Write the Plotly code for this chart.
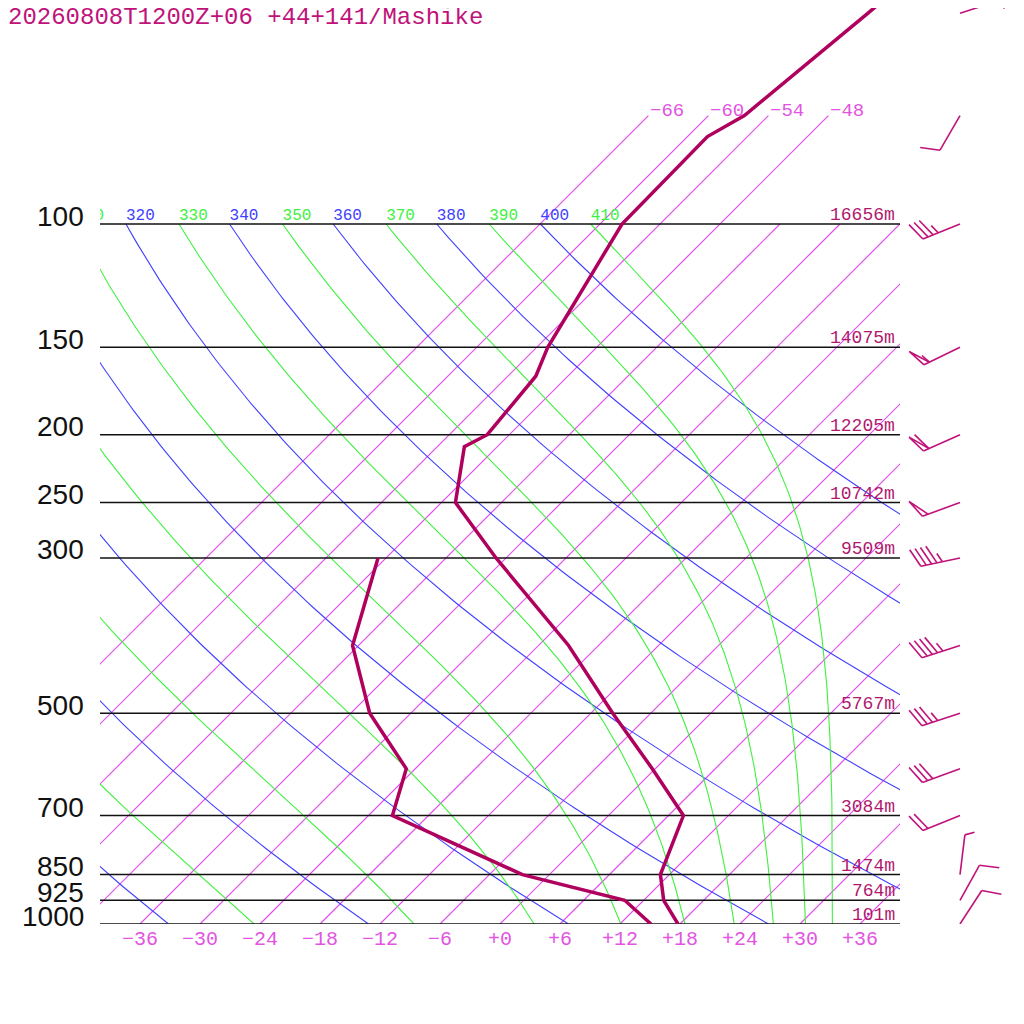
import numpy as np
import plotly.graph_objects as go

# --- sounding ---
pres_t = [1000, 925, 850, 700, 600, 500, 400, 300, 250, 208, 200, 165, 150, 100, 75, 70, 50, 40]
temp = [17.8, 14.0, 11.1, 7.5, -0.3, -9.8, -21.0, -37.0, -46.6, -51.3, -50.2, -51.2, -52.9,
        -57.8, -58.0, -56.4, -54.3, -52.9]
pres_td = [1000, 925, 850, 700, 600, 500, 400, 300]
dewp = [15.1, 10.1, -2.7, -21.6, -24.9, -34.1, -42.6, -48.8]

levels = [100, 150, 200, 250, 300, 500, 700, 850, 925, 1000]
heights = [16656, 14075, 12205, 10742, 9509, 5767, 3084, 1474, 764, 101]

wind_p = [50, 70, 100, 150, 200, 250, 300, 400, 500, 600, 700, 850, 925, 1000]
wind_dir = [72, 210, 248, 244, 246, 250, 258, 252, 252, 250, 248, 7, 29, 33]
wind_kt = [5, 10, 35, 55, 60, 50, 45, 45, 35, 30, 20, 5, 10, 10]

isotherms = list(range(-66, 37, 6))
theta_lines = list(range(240, 401, 20))
thetae_lines = list(range(250, 411, 20))
temp_ticks = list(range(-36, 37, 6))

title = "20260808T1200Z+06 +44+141/Mashike"

C_PROF = "rgb(176,0,94)"
C_BARB = "rgb(192,18,122)"
C_HGT = "rgb(176,24,110)"
C_ISO = "rgb(226,78,236)"
C_ISO_TXT = "rgb(226,84,226)"
C_DRY = "rgb(64,64,255)"
C_WET = "rgb(64,240,64)"
MONO = "Liberation Mono"

SKEW = 70.0   # deg C per decade of pressure
PX_DEC = 700  # pixels per decade of pressure
OFF = 8       # the page puts the figure 8px in from the corner

# y axis: page y=OFF .. 924 -> figure 0 .. 916
Y_TOP = 3 - (924 - OFF) / PX_DEC


def skew(t, p):
    return np.asarray(t, float) + SKEW * np.log10(1000.0 / np.asarray(p, float))


def theta_e(tk, p):
    es = 6.112 * np.exp(17.67 * (tk - 273.15) / (tk - 29.65))
    es = np.minimum(es, 0.5 * p)
    r = 622.0 * es / (p - es)
    return tk * (1000.0 / p) ** (0.2854 * (1 - 0.00028 * r)) * \
        np.exp((3.376 / tk - 0.00254) * r * (1 + 0.00081 * r))


def moist_adiabat(te, p):
    lo = np.full_like(p, 150.0)
    hi = np.full_like(p, 340.0)
    for _ in range(60):
        mid = 0.5 * (lo + hi)
        big = theta_e(mid, p) > te
        hi = np.where(big, mid, hi)
        lo = np.where(big, lo, mid)
    return 0.5 * (lo + hi) - 273.15


pgrid = np.exp(np.linspace(np.log(1000), np.log(100), 140))

fig = go.Figure()

# isotherms
xs, ys = [], []
for t in isotherms:
    ptop = 70 if t <= -48 else 100
    xs += [float(t), float(skew(t, ptop)), None]
    ys += [1000.0, float(ptop), None]
fig.add_trace(go.Scatter(x=xs, y=ys, mode="lines", line=dict(color=C_ISO, width=1.2),
                         hoverinfo="skip"))

# dry adiabats
xs, ys = [], []
lab_x, lab_t = [], []
for th in theta_lines:
    tc = th * (pgrid / 1000.0) ** 0.2857 - 273.15
    xs += list(skew(tc, pgrid)) + [None]
    ys += list(pgrid) + [None]
    lx = float(skew(tc[-1], 100))
    if lx > -43.5:
        lab_x.append(lx)
        lab_t.append(str(th))
fig.add_trace(go.Scatter(x=xs, y=ys, mode="lines", line=dict(color=C_DRY, width=1.1),
                         hoverinfo="skip"))
fig.add_trace(go.Scatter(x=lab_x, y=[100] * len(lab_x), mode="text", text=lab_t,
                         textposition="top right", cliponaxis=True,
                         textfont=dict(family=MONO, size=16, color=C_DRY), hoverinfo="skip"))

# moist adiabats
xs, ys = [], []
lab_x, lab_t = [], []
for te in thetae_lines:
    tc = moist_adiabat(float(te), pgrid)
    xs += list(skew(tc, pgrid)) + [None]
    ys += list(pgrid) + [None]
    lx = float(skew(tc[-1], 100))
    if lx > -43.5:
        lab_x.append(lx)
        lab_t.append(str(te))
fig.add_trace(go.Scatter(x=xs, y=ys, mode="lines", line=dict(color=C_WET, width=1.1),
                         hoverinfo="skip"))
fig.add_trace(go.Scatter(x=lab_x, y=[100] * len(lab_x), mode="text", text=lab_t,
                         textposition="top right", cliponaxis=True,
                         textfont=dict(family=MONO, size=16, color=C_WET), hoverinfo="skip"))

# pressure lines
xs, ys = [], []
for p in levels:
    xs += [-40, 40, None]
    ys += [p, p, None]
fig.add_trace(go.Scatter(x=xs, y=ys, mode="lines", line=dict(color="#111111", width=1.5),
                         hoverinfo="skip"))

# profiles
fig.add_trace(go.Scatter(x=skew(dewp, pres_td), y=pres_td, mode="lines",
                         line=dict(color=C_PROF, width=3.5)))
fig.add_trace(go.Scatter(x=skew(temp, pres_t), y=pres_t, mode="lines",
                         line=dict(color=C_PROF, width=3.5)))


# wind barbs, drawn in pixel units on a second x axis
def barb(p0, wdir, spd):
    L, full, half, gap = 40.0, 20.0, 10.0, 5.5
    th = np.radians(wdir)
    u = np.array([np.sin(th), -np.cos(th)])
    a = np.radians(68)
    f = np.array([u[0] * np.cos(a) - u[1] * np.sin(a), u[0] * np.sin(a) + u[1] * np.cos(a)])
    segs = [[np.zeros(2), L * u]]
    n50, rem = divmod(int(round(spd / 5.0)) * 5, 50)
    n10, rem = divmod(rem, 10)
    n5 = rem // 5
    s = L
    for _ in range(n50):
        segs.append([s * u, s * u + full * f, (s - 6) * u])
        s -= 6
    for _ in range(n10):
        segs.append([s * u, s * u + full * f])
        s -= gap
    for _ in range(n5):
        segs.append([s * u, s * u + half * f])
    bx, by = [], []
    for seg in segs:
        for pt in seg:
            bx.append(960 + pt[0])
            by.append(p0 * 10 ** (pt[1] / PX_DEC))
        bx.append(None)
        by.append(None)
    return bx, by


xs, ys = [], []
for p, d, s in zip(wind_p, wind_dir, wind_kt):
    bx, by = barb(p, d, s)
    xs += bx
    ys += by
fig.add_trace(go.Scatter(x=xs, y=ys, xaxis="x2", yaxis="y", mode="lines",
                         line=dict(color=C_BARB, width=1.6), hoverinfo="skip"))


def px(x):
    return (x - OFF) / 1024


ann = []
for p in levels:
    ann.append(dict(x=px(86), xref="paper", y=np.log10(p), yref="y", text=str(p),
                    showarrow=False, xanchor="right", yanchor="middle", yshift=8,
                    font=dict(family="Liberation Sans", size=28, color="#111111")))
for p, h in zip(levels, heights):
    ann.append(dict(x=px(897), xref="paper", y=np.log10(p), yref="y", text=f"{h}m",
                    showarrow=False, xanchor="right", yanchor="middle", yshift=9,
                    font=dict(family=MONO, size=18, color=C_HGT)))
for t in isotherms:
    if t <= -48:
        ann.append(dict(x=float(skew(t, 70)), xref="x", y=np.log10(70), yref="y",
                        text=f"\u2212{abs(t)}", showarrow=False, xanchor="left",
                        yanchor="middle", yshift=5,
                        font=dict(family=MONO, size=19, color=C_ISO_TXT)))
ann.append(dict(x=-2 / 1024, xref="paper", y=1, yref="paper", text=title, showarrow=False,
                xanchor="left", yanchor="top", yshift=6,
                font=dict(family=MONO, size=24, color=C_BARB)))

tick_text = [("\u2212" if t < 0 else "+") + str(abs(t)) for t in temp_ticks]

fig.update_layout(
    width=1024, height=1024, margin=dict(l=0, r=0, t=0, b=0),
    paper_bgcolor="white", plot_bgcolor="white", showlegend=False,
    xaxis=dict(domain=[px(100), px(900)], range=[-40, 40], anchor="y",
               tickvals=temp_ticks, ticktext=tick_text, ticks="", showgrid=False,
               zeroline=False, showline=False,
               tickfont=dict(family=MONO, size=20, color=C_ISO_TXT)),
    xaxis2=dict(domain=[px(900), 1], range=[900, 900 + 1024 - (900 - OFF)], anchor="y",
                visible=False),
    yaxis=dict(domain=[1 - (924 - OFF) / 1024, 1], type="log", range=[3, Y_TOP],
               showticklabels=False, ticks="", showgrid=False, zeroline=False,
               showline=False),
    annotations=ann,
)

fig.write_html("out.html")
